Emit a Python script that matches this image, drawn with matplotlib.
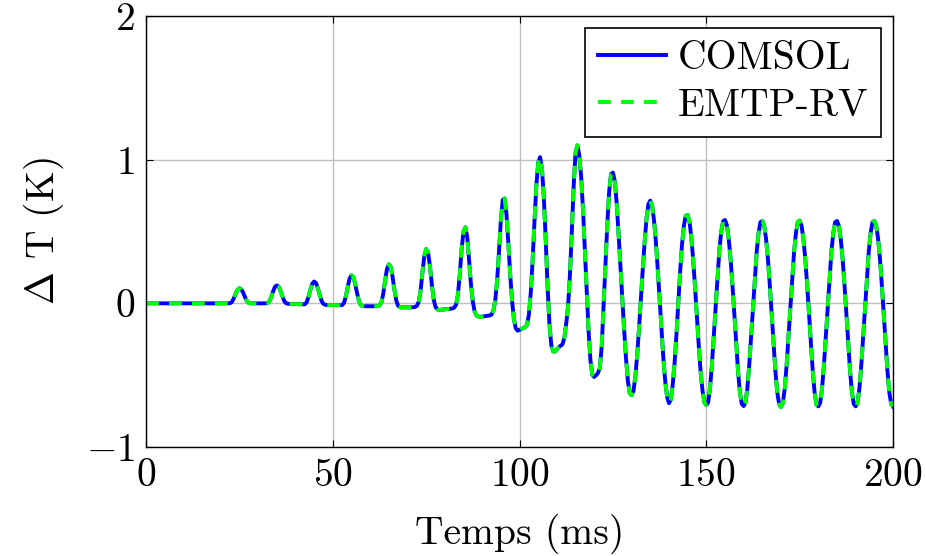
import numpy as np
from matplotlib import pyplot as plt

plt.rcParams['font.family'] = 'serif'
plt.rcParams['font.serif'] = ['cmr10']
plt.rcParams['mathtext.fontset'] = 'cm'
plt.rcParams['axes.formatter.use_mathtext'] = True
plt.rcParams['font.size'] = 28.5

# Sample times: every 0.5 ms from 0 to 200 ms
temps_ms = np.arange(0, 200.5, 0.5)

# Delta T (K), one row per 10 ms (t = 10k + 0, 0.5, ..., 9.5)
delta_t_comsol = [
    0, 0, 0, 0, 0, 0, 0, 0, 0, 0, 0, 0, 0, 0, 0, 0, 0, 0, 0, 0,
    0, 0, 0, 0, 0, 0, 0, 0, 0, 0, 0, 0, 0, 0, 0, 0, 0, 0, 0, 0,
    0, 0, 0, 0, 0, 0.001, 0.01, 0.035, 0.068, 0.095, 0.105, 0.098, 0.075, 0.044, 0.016, 0.003, 0, 0, 0, 0,
    0, 0, 0, 0, 0, 0.001, 0.012, 0.042, 0.082, 0.114, 0.125, 0.117, 0.088, 0.05, 0.016, 0.001, -0.003, -0.004, -0.004, -0.004,
    -0.005, -0.005, -0.006, -0.006, -0.007, -0.006, 0.008, 0.045, 0.095, 0.136, 0.152, 0.142, 0.105, 0.058, 0.017, -0.004, -0.01, -0.012, -0.012, -0.012,
    -0.012, -0.012, -0.013, -0.013, -0.013, -0.012, 0.003, 0.048, 0.115, 0.172, 0.195, 0.183, 0.134, 0.072, 0.017, -0.012, -0.019, -0.02, -0.02, -0.02,
    -0.02, -0.02, -0.02, -0.02, -0.019, -0.015, 0.005, 0.065, 0.158, 0.238, 0.272, 0.255, 0.186, 0.095, 0.02, -0.018, -0.027, -0.028, -0.028, -0.028,
    -0.028, -0.028, -0.028, -0.027, -0.025, -0.018, 0.01, 0.085, 0.215, 0.33, 0.378, 0.355, 0.262, 0.136, 0.03, -0.025, -0.042, -0.046, -0.045, -0.043,
    -0.042, -0.04, -0.039, -0.038, -0.036, -0.03, -0.01, 0.06, 0.2, 0.38, 0.5, 0.53, 0.46, 0.3, 0.13, 0.01, -0.06, -0.085, -0.092, -0.094,
    -0.092, -0.09, -0.088, -0.086, -0.084, -0.078, -0.05, 0.02, 0.16, 0.36, 0.58, 0.72, 0.73, 0.62, 0.42, 0.2, 0.02, -0.11, -0.175, -0.19,
    -0.185, -0.178, -0.172, -0.166, -0.15, -0.08, 0.07, 0.3, 0.57, 0.82, 0.98, 1.018, 0.94, 0.74, 0.45, 0.12, -0.14, -0.29, -0.335, -0.335,
    -0.32, -0.305, -0.295, -0.285, -0.24, -0.14, -0.02, 0.2, 0.5, 0.82, 1.05, 1.1, 1.03, 0.88, 0.65, 0.37, 0.08, -0.2, -0.4, -0.5,
    -0.512, -0.5, -0.485, -0.45, -0.3, -0.02, 0.27, 0.55, 0.78, 0.9, 0.91, 0.85, 0.7, 0.49, 0.26, 0.04, -0.18, -0.38, -0.54, -0.625,
    -0.64, -0.61, -0.51, -0.36, -0.17, 0.04, 0.24, 0.43, 0.59, 0.69, 0.715, 0.68, 0.58, 0.43, 0.24, 0.03, -0.18, -0.38, -0.54, -0.65,
    -0.695, -0.67, -0.57, -0.42, -0.22, 0.0, 0.22, 0.41, 0.54, 0.61, 0.615, 0.57, 0.46, 0.3, 0.11, -0.1, -0.3, -0.48, -0.61, -0.69,
    -0.708, -0.69, -0.59, -0.43, -0.23, -0.02, 0.18, 0.37, 0.5, 0.572, 0.58, 0.545, 0.45, 0.31, 0.13, -0.07, -0.28, -0.47, -0.62, -0.7,
    -0.715, -0.69, -0.59, -0.43, -0.23, -0.02, 0.18, 0.36, 0.49, 0.565, 0.573, 0.54, 0.45, 0.31, 0.13, -0.07, -0.28, -0.47, -0.62, -0.7,
    -0.722, -0.695, -0.595, -0.435, -0.235, -0.025, 0.175, 0.36, 0.49, 0.567, 0.576, 0.54, 0.45, 0.31, 0.13, -0.07, -0.28, -0.47, -0.62, -0.705,
    -0.717, -0.692, -0.59, -0.43, -0.23, -0.02, 0.18, 0.36, 0.49, 0.565, 0.573, 0.54, 0.45, 0.31, 0.13, -0.07, -0.28, -0.47, -0.62, -0.7,
    -0.717, -0.692, -0.59, -0.43, -0.23, -0.02, 0.18, 0.36, 0.49, 0.565, 0.573, 0.54, 0.45, 0.31, 0.13, -0.07, -0.28, -0.47, -0.62, -0.7,
    -0.72,
]
# EMTP-RV lies on top of COMSOL everywhere in the figure
delta_t_emtp = list(delta_t_comsol)

fig = plt.figure(figsize=(9.26, 5.56), dpi=100)
ax = fig.add_axes([0.1577, 0.196, 0.8067, 0.7752])

ax.plot(temps_ms, delta_t_comsol, color=(0, 0, 1), linewidth=2.8, label='COMSOL')
ax.plot(temps_ms, delta_t_emtp, color=(0, 1, 0), linewidth=2.8, linestyle=(0, (3.3, 2.6)),
        label='EMTP-RV')

ax.set_xlim(0, 200)
ax.set_ylim(-1, 2)
ax.set_xticks([0, 50, 100, 150, 200])
ax.set_yticks([-1, 0, 1, 2])
ax.grid(True, color='#c0c0c0', linewidth=1.0)
ax.set_axisbelow(True)
ax.tick_params(direction='in', length=5, width=0.8, top=True, right=True, pad=8)
for s in ax.spines.values():
    s.set_linewidth(1.0)

ax.set_xlabel('Temps (ms)', labelpad=14)
ax.set_ylabel(r'$\Delta$ T (K)', labelpad=14)

leg = ax.legend(loc='upper right', fancybox=False, edgecolor='black', framealpha=1,
                handlelength=1.7, handletextpad=0.3, borderpad=0.33, labelspacing=0.28,
                borderaxespad=0.3)
leg.get_frame().set_linewidth(1.2)

fig.savefig('out.png', dpi=100)
